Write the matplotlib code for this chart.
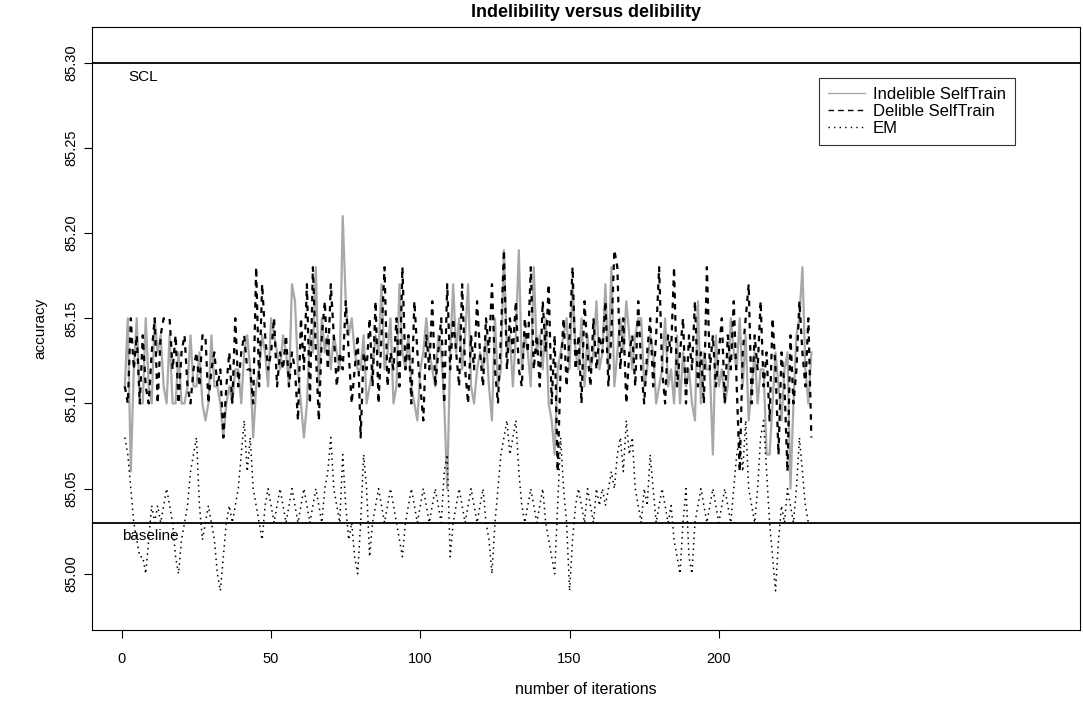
import numpy as np
import matplotlib
matplotlib.use('Agg')
import matplotlib.pyplot as plt
from matplotlib.lines import Line2D

# accuracy values, stored as hundredths above 85.00
ind_c = [11, 15, 6, 12, 15, 10, 10, 15, 11, 10,
         15, 13, 14, 11, 10, 14, 10, 10, 13, 10,
         10, 11, 14, 11, 11, 13, 10, 9, 10, 14,
         11, 11, 10, 8, 10, 11, 10, 12, 12, 10,
         13, 14, 12, 8, 11, 12, 14, 13, 11, 15,
         14, 13, 12, 14, 13, 11, 17, 16, 12, 10,
         8, 10, 14, 13, 18, 11, 15, 13, 14, 12,
         14, 13, 12, 21, 16, 14, 15, 13, 12, 12,
         14, 10, 11, 12, 14, 13, 17, 12, 13, 15,
         10, 11, 17, 13, 12, 14, 11, 10, 9, 12,
         13, 15, 13, 12, 11, 14, 13, 10, 5, 13,
         17, 13, 15, 12, 14, 17, 11, 10, 12, 13,
         12, 14, 11, 9, 15, 11, 12, 19, 13, 14,
         11, 14, 19, 12, 14, 13, 11, 18, 13, 14,
         12, 15, 10, 9, 7, 12, 13, 14, 15, 12,
         17, 13, 12, 15, 11, 14, 12, 13, 16, 12,
         13, 17, 12, 18, 11, 13, 15, 13, 16, 14,
         12, 14, 15, 15, 11, 12, 14, 13, 10, 11,
         12, 15, 11, 12, 10, 14, 10, 13, 11, 12,
         10, 9, 16, 10, 13, 12, 12, 7, 14, 11,
         12, 10, 11, 15, 13, 12, 15, 11, 14, 9,
         11, 13, 10, 12, 12, 7, 7, 10, 13, 11,
         9, 12, 13, 5, 10, 14, 15, 18, 12, 10, 13]

del_c = [11, 10, 15, 12, 14, 10, 14, 11, 10, 13,
         15, 10, 14, 15, 15, 15, 12, 14, 10, 13,
         14, 11, 10, 12, 13, 11, 14, 14, 10, 12,
         13, 11, 12, 8, 11, 13, 10, 15, 11, 13,
         14, 12, 12, 10, 18, 11, 17, 14, 12, 13,
         15, 11, 13, 12, 14, 11, 13, 12, 9, 15,
         12, 17, 10, 18, 13, 9, 14, 16, 12, 17,
         14, 11, 13, 12, 16, 13, 10, 12, 14, 8,
         13, 12, 15, 11, 16, 10, 14, 18, 11, 13,
         12, 15, 11, 18, 12, 14, 10, 16, 13, 11,
         9, 14, 12, 16, 11, 13, 15, 10, 17, 12,
         15, 13, 11, 17, 12, 10, 14, 12, 16, 13,
         11, 15, 13, 17, 12, 10, 14, 19, 12, 15,
         13, 16, 12, 11, 15, 13, 18, 12, 14, 11,
         16, 13, 17, 10, 14, 6, 12, 15, 11, 14,
         18, 12, 14, 10, 16, 13, 11, 15, 12, 14,
         13, 16, 11, 14, 19, 18, 12, 15, 10, 13,
         14, 11, 16, 12, 10, 13, 15, 11, 14, 18,
         12, 10, 14, 13, 18, 11, 13, 15, 10, 14,
         12, 16, 11, 13, 10, 18, 12, 14, 11, 13,
         15, 10, 14, 12, 16, 11, 6, 13, 15, 17,
         10, 14, 12, 16, 11, 13, 9, 15, 12, 7,
         13, 11, 6, 14, 10, 12, 16, 13, 11, 15, 8]

em_c = [8, 7, 5, 3, 2, 1, 1, 0, 2, 4,
        3, 4, 3, 4, 5, 4, 3, 1, 0, 2,
        3, 4, 6, 7, 8, 4, 2, 3, 4, 3,
        2, 0, -1, 1, 3, 4, 3, 4, 5, 7,
        9, 6, 8, 5, 4, 3, 2, 4, 5, 4,
        3, 4, 5, 4, 3, 4, 5, 4, 3, 4,
        5, 4, 3, 4, 5, 4, 3, 5, 6, 8,
        5, 4, 3, 7, 4, 2, 3, 1, 0, 3,
        7, 5, 1, 3, 4, 5, 4, 3, 4, 5,
        4, 3, 2, 1, 3, 4, 5, 4, 3, 4,
        5, 4, 3, 4, 5, 4, 3, 6, 7, 1,
        3, 4, 5, 4, 3, 4, 5, 4, 3, 4,
        5, 3, 2, 0, 3, 5, 7, 8, 9, 7,
        8, 9, 6, 4, 3, 4, 5, 4, 3, 4,
        5, 3, 2, 1, 0, 4, 8, 5, 3, -1,
        2, 4, 5, 4, 3, 5, 4, 3, 5, 4,
        5, 4, 5, 6, 5, 7, 8, 6, 9, 7,
        8, 5, 4, 3, 5, 4, 7, 5, 3, 4,
        5, 4, 3, 4, 2, 1, 0, 3, 5, 1,
        0, 3, 4, 5, 4, 3, 4, 5, 4, 3,
        4, 5, 4, 3, 5, 7, 8, 6, 9, 5,
        4, 3, 5, 8, 9, 6, 3, 1, -1, 2,
        4, 3, 5, 4, 3, 5, 8, 6, 4, 3, 3]

scl = 85.30
baseline = 85.03
yticks = [85.00, 85.05, 85.10, 85.15, 85.20, 85.25, 85.30]
xticks = [0, 50, 100, 150, 200]
labels = ['Indelible SelfTrain', 'Delible SelfTrain', 'EM']

ind = 85 + np.array(ind_c) / 100
dlb = 85 + np.array(del_c) / 100
em = 85 + np.array(em_c) / 100

plt.rcParams['font.family'] = ['Liberation Sans', 'DejaVu Sans']

fig = plt.figure(figsize=(10.83, 7.04), dpi=100)
ax = fig.add_axes([92 / 1083, 1 - 630 / 704, (1080 - 92) / 1083, (630 - 27) / 704])

dash = (0, (2.5, 2.5))
dot = (0, (1, 2.6))
ax.plot(np.arange(1, len(ind) + 1), ind, color='#a8a8a8', lw=1.6)
ax.plot(np.arange(1, len(dlb) + 1), dlb, color='black', lw=1.6, ls=dash)
ax.plot(np.arange(1, len(em) + 1), em, color='black', lw=1.1, ls=dot)

ax.axhline(scl, color='black', lw=1.3)
ax.axhline(baseline, color='black', lw=1.3)
ax.text(7, scl - 0.004, 'SCL', ha='center', va='top', fontsize=11)
ax.text(9.5, baseline - 0.004, 'baseline', ha='center', va='top', fontsize=11)

ax.set_xlim(-10, 321)
ax.set_ylim(84.967, 85.321)
ax.set_xticks(xticks)
ax.set_yticks(yticks)
ax.set_yticklabels(['%.2f' % v for v in yticks], rotation=90, va='center')
ax.tick_params(direction='out', length=6, width=0.8, labelsize=10.5)
ax.tick_params(axis='x', pad=10)
ax.tick_params(axis='y', pad=4)

ax.set_title('Indelibility versus delibility', fontsize=13, fontweight='bold', pad=7)
ax.set_xlabel('number of iterations', fontsize=11.5, labelpad=11)
ax.set_ylabel('accuracy', fontsize=11, labelpad=12)

# thin lines for the legend keys, as in the original
handles = [Line2D([], [], color='#a8a8a8', lw=1.0),
           Line2D([], [], color='black', lw=1.0, ls=(0, (4, 3))),
           Line2D([], [], color='black', lw=1.0, ls=(0, (1, 3)))]
leg = ax.legend(handles, labels, loc='upper right',
                bbox_to_anchor=((1015 - 92) / 988, 1 - (78 - 27) / 603),
                borderaxespad=0, fontsize=12, frameon=True, fancybox=False,
                edgecolor='black', handlelength=2.2, handletextpad=0.5,
                borderpad=0.55, labelspacing=0.12)
leg.get_frame().set_linewidth(0.8)

fig.savefig('out.png', dpi=100)
